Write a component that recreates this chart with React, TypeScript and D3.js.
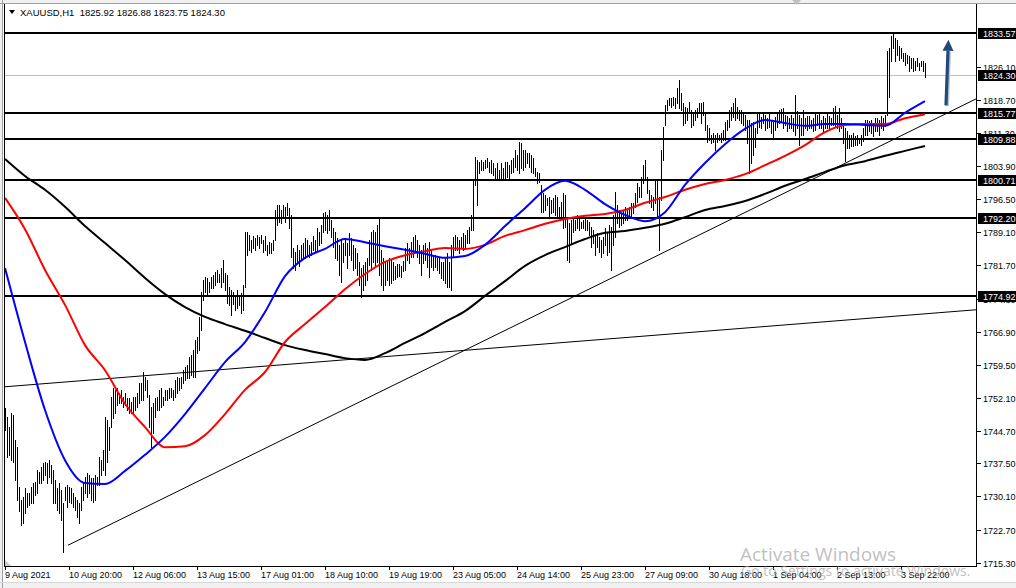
import React from 'react';
import * as d3 from 'd3';

// XAUUSD H1 bars, one per index (high / low)
const highs = [
  1749.9,1747.9,1745.6,1748.7,1748.3,1742.7,1741.1,1732.2,1729.3,1729.9,
  1731.9,1730.9,1730.9,1732.2,1733.1,1733.4,1736.0,1735.6,1736.7,1737.6,
  1737.8,1737.6,1738.2,1737.1,1736.0,1733.8,1731.9,1733.1,1731.5,1728.6,
  1732.2,1732.7,1732.2,1731.9,1730.9,1729.9,1729.3,1728.6,1732.2,1733.4,
  1734.4,1735.3,1734.9,1734.2,1734.2,1734.9,1734.4,1738.9,1738.2,1740.4,
  1747.9,1747.2,1745.6,1752.3,1754.3,1753.9,1754.3,1753.2,1753.9,1752.3,
  1753.2,1752.1,1752.1,1751.2,1752.3,1752.3,1753.2,1755.4,1755.4,1757.9,
  1756.8,1756.1,1752.7,1750.1,1751.0,1752.1,1752.3,1753.9,1754.3,1752.3,
  1753.9,1753.9,1754.3,1754.3,1753.9,1756.1,1756.8,1756.6,1756.8,1758.3,
  1759.0,1759.5,1761.2,1761.7,1762.8,1765.1,1765.7,1770.2,1775.8,1778.5,
  1779.1,1778.9,1778.0,1779.1,1779.6,1780.3,1780.7,1779.8,1781.1,1782.9,
  1780.0,1779.6,1776.9,1776.2,1775.7,1775.1,1776.2,1775.1,1775.5,1777.3,
  1789.1,1789.1,1788.5,1787.4,1788.3,1787.8,1788.5,1788.1,1788.5,1787.4,
  1788.3,1786.3,1787.0,1786.8,1787.4,1794.1,1795.2,1795.2,1794.1,1795.2,
  1794.7,1795.6,1794.5,1793.0,1785.6,1784.7,1786.3,1785.2,1786.3,1786.8,
  1787.8,1787.4,1786.3,1787.0,1788.3,1787.4,1790.0,1789.1,1790.7,1793.4,
  1793.7,1793.0,1794.1,1791.9,1790.0,1789.1,1787.8,1786.3,1787.4,1786.8,
  1787.8,1786.8,1789.0,1787.8,1786.3,1785.6,1784.5,1782.4,1781.1,1781.8,
  1782.4,1783.3,1787.4,1789.1,1789.6,1789.1,1790.7,1792.3,1785.2,1783.3,
  1782.4,1782.9,1783.3,1782.9,1782.4,1781.6,1782.0,1782.0,1781.6,1782.7,
  1785.6,1786.8,1785.6,1787.0,1788.1,1788.5,1787.4,1786.3,1785.2,1786.3,
  1786.8,1785.6,1787.0,1785.2,1784.0,1784.0,1783.3,1783.6,1782.5,1782.5,
  1783.6,1784.4,1782.4,1786.3,1788.1,1788.5,1788.1,1787.4,1788.1,1789.0,
  1788.5,1789.6,1790.3,1793.0,1800.8,1805.9,1805.3,1804.8,1805.3,1804.8,
  1805.3,1805.7,1804.8,1805.3,1804.6,1803.5,1804.6,1803.0,1804.6,1803.5,
  1804.8,1804.8,1804.1,1805.3,1805.7,1807.5,1806.4,1809.3,1809.1,1807.5,
  1807.5,1806.8,1806.8,1806.4,1805.7,1803.5,1802.5,1802.3,1799.7,1797.9,
  1797.4,1796.7,1797.0,1796.3,1796.7,1797.4,1797.0,1794.7,1795.8,1797.9,
  1797.4,1792.3,1791.2,1791.9,1792.5,1791.9,1793.0,1792.3,1791.4,1791.9,
  1792.3,1791.9,1791.4,1790.3,1789.6,1788.5,1789.0,1788.1,1787.4,1788.1,
  1790.0,1789.0,1790.7,1790.3,1793.0,1798.1,1795.2,1794.1,1793.4,1794.1,
  1794.7,1794.1,1794.7,1795.6,1795.6,1797.9,1800.1,1799.2,1801.4,1804.1,
  1805.3,1801.4,1798.6,1797.4,1797.0,1800.8,1800.8,1797.0,1807.5,1812.6,
  1817.6,1818.7,1819.1,1819.1,1819.3,1819.1,1821.3,1823.1,1820.2,1817.9,
  1817.1,1816.9,1818.2,1816.4,1815.7,1816.4,1816.9,1817.9,1817.9,1818.2,
  1815.7,1813.1,1812.4,1810.8,1811.3,1810.8,1811.3,1810.8,1811.3,1812.0,
  1813.8,1814.2,1816.4,1817.1,1817.9,1819.1,1817.1,1816.4,1816.4,1815.9,
  1815.3,1814.2,1814.2,1813.5,1813.8,1812.4,1815.7,1815.7,1814.9,1816.0,
  1815.3,1814.6,1815.7,1814.2,1814.2,1814.9,1815.7,1816.4,1816.6,1816.9,
  1815.3,1815.1,1814.6,1815.3,1814.6,1819.8,1816.2,1815.3,1814.6,1816.4,
  1814.6,1815.1,1815.1,1814.2,1814.6,1815.7,1815.3,1815.7,1814.2,1815.1,
  1814.6,1815.7,1815.1,1814.6,1816.9,1817.3,1815.3,1816.9,1814.6,1813.1,
  1812.4,1811.7,1810.8,1810.8,1811.3,1810.6,1810.8,1810.2,1810.8,1812.4,
  1814.2,1814.2,1814.0,1814.2,1813.5,1814.6,1814.6,1814.2,1815.1,1814.6,
  1815.3,1829.6,1830.3,1833.0,1833.6,1832.5,1832.1,1830.7,1830.3,1829.2,
  1829.2,1828.7,1828.5,1828.0,1828.0,1827.4,1828.0,1826.9,1827.4,1827.4,1826.88,
];

const lows = [
  1744.9,1738.9,1739.4,1738.2,1737.8,1733.8,1729.3,1726.9,1723.7,1724.2,
  1726.4,1727.7,1728.2,1728.6,1728.6,1730.4,1730.9,1733.1,1733.1,1733.8,
  1734.9,1733.1,1734.4,1733.1,1728.6,1728.6,1727.0,1726.4,1724.8,1717.7,
  1729.3,1727.7,1728.8,1728.6,1727.7,1727.0,1725.5,1724.2,1727.0,1729.3,
  1730.9,1730.0,1730.9,1729.3,1728.8,1729.3,1732.7,1732.7,1734.9,1736.0,
  1734.9,1737.8,1740.4,1745.6,1747.6,1748.7,1750.5,1751.0,1751.0,1750.1,
  1750.5,1749.4,1748.7,1748.7,1748.7,1749.4,1750.1,1751.0,1751.7,1751.7,
  1753.9,1752.3,1745.6,1741.1,1744.2,1747.9,1749.4,1749.4,1750.1,1750.6,
  1751.7,1751.7,1752.1,1752.3,1751.7,1752.3,1753.2,1753.9,1754.3,1755.4,
  1756.1,1756.6,1756.6,1757.2,1756.8,1756.8,1762.1,1762.8,1767.3,1774.0,
  1775.8,1775.1,1775.8,1776.7,1776.7,1777.3,1778.0,1778.0,1776.9,1778.0,
  1776.2,1773.3,1772.9,1770.6,1773.1,1771.8,1772.2,1772.9,1771.1,1771.8,
  1776.9,1784.0,1785.2,1784.7,1785.6,1785.2,1786.3,1785.6,1786.8,1784.7,
  1785.2,1784.0,1784.4,1784.4,1785.2,1787.4,1790.7,1791.4,1791.2,1792.3,
  1791.4,1793.0,1790.0,1783.6,1781.1,1780.7,1782.4,1781.6,1782.9,1783.3,
  1783.3,1784.0,1783.6,1784.0,1785.2,1784.7,1785.2,1786.3,1786.8,1789.1,
  1789.6,1788.9,1789.6,1788.1,1785.8,1783.3,1782.9,1779.6,1778.0,1782.4,
  1784.0,1781.1,1784.0,1782.9,1780.7,1781.1,1779.6,1777.3,1774.6,1776.2,
  1777.3,1778.5,1781.8,1780.7,1782.4,1781.8,1782.4,1779.6,1777.3,1776.2,
  1777.3,1778.5,1777.3,1777.8,1778.5,1778.7,1779.1,1779.3,1779.1,1780.5,
  1780.7,1782.9,1782.2,1783.6,1783.6,1784.7,1783.6,1782.2,1779.6,1782.2,
  1782.9,1781.3,1779.1,1781.3,1780.7,1781.3,1780.7,1780.0,1778.9,1778.5,
  1777.8,1776.9,1776.9,1776.2,1783.6,1785.2,1785.2,1784.4,1785.6,1785.2,
  1785.8,1786.8,1786.8,1789.6,1789.6,1799.7,1795.2,1802.3,1803.0,1803.0,
  1803.4,1803.7,1802.5,1802.3,1801.9,1801.2,1801.2,1800.8,1801.2,1800.8,
  1800.8,1801.5,1800.8,1802.3,1802.5,1803.7,1803.0,1802.3,1803.5,1803.0,
  1803.7,1804.6,1803.7,1802.5,1802.3,1801.7,1800.1,1800.3,1793.7,1793.7,
  1794.1,1795.2,1792.3,1793.4,1793.7,1793.0,1792.5,1792.5,1792.5,1790.0,
  1790.3,1782.9,1782.4,1786.8,1789.1,1789.6,1790.0,1789.6,1790.0,1790.0,
  1789.6,1789.6,1788.5,1785.8,1786.8,1784.0,1785.8,1784.7,1783.6,1784.4,
  1786.3,1784.0,1784.7,1780.7,1786.3,1788.0,1791.2,1790.3,1790.7,1791.2,
  1791.9,1791.9,1792.5,1792.5,1793.4,1794.7,1795.8,1797.0,1797.0,1800.1,
  1800.8,1797.9,1795.6,1794.7,1794.1,1795.6,1792.5,1785.2,1796.3,1805.3,
  1813.1,1816.4,1817.5,1817.1,1817.5,1816.9,1818.0,1816.9,1816.4,1813.1,
  1813.5,1814.2,1816.0,1812.6,1813.1,1814.2,1814.9,1815.7,1813.5,1815.3,
  1812.0,1809.3,1809.7,1809.1,1809.3,1807.5,1809.3,1809.7,1809.3,1809.7,
  1809.7,1812.0,1812.6,1814.2,1814.9,1814.2,1814.6,1814.2,1813.5,1813.1,
  1812.0,1809.1,1802.3,1804.6,1806.4,1808.2,1811.3,1812.6,1812.4,1813.5,
  1812.0,1812.4,1812.6,1811.3,1810.2,1812.0,1812.6,1813.5,1813.8,1812.4,
  1813.1,1811.7,1812.4,1812.4,1811.7,1810.8,1812.4,1808.6,1810.8,1810.8,
  1812.4,1812.0,1812.4,1812.4,1811.7,1812.0,1813.1,1812.4,1812.4,1811.7,
  1812.4,1812.4,1812.4,1813.1,1813.1,1812.9,1812.4,1811.7,1812.4,1809.1,
  1805.0,1807.9,1807.9,1808.4,1808.4,1808.6,1808.6,1809.1,1808.6,1809.5,
  1810.8,1810.8,1811.7,1811.3,1810.6,1811.7,1811.7,1810.8,1812.4,1812.0,
  1812.9,1815.3,1819.3,1827.4,1830.3,1827.4,1828.7,1827.6,1828.0,1827.4,
  1826.5,1826.9,1825.1,1825.8,1825.1,1825.4,1826.3,1825.4,1826.3,1825.1,1823.75,
];

// moving averages, one value every maStep bars
const maStep = 10;
const maFast = [
  1781.1,1764.6,1749.4,1738.2,1733.1,1732.9,1735.8,1739.4,1743.4,1748.5,
  1754.3,1760.1,1764.6,1771.3,1779.3,1783.4,1785.4,1787.6,1786.9,1786.0,
  1785.2,1784.3,1783.4,1783.8,1786.3,1790.5,1794.5,1798.6,1800.6,1798.6,
  1795.4,1793.0,1791.6,1793.6,1799.7,1804.6,1808.8,1812.2,1814.2,1813.5,
  1812.9,1813.3,1813.3,1813.1,1812.9,1815.8,1818.4,
];
const maMid = [
  1796.8,1789.8,1780.7,1772.9,1763.9,1758.3,1750.8,1745.6,1741.1,1741.3,
  1743.8,1748.5,1753.9,1757.9,1764.6,1768.6,1772.4,1776.4,1779.8,1782.5,
  1784.0,1784.9,1785.6,1785.4,1786.3,1788.3,1789.6,1791.0,1792.1,1792.8,
  1793.2,1794.1,1795.7,1797.0,1798.6,1799.9,1800.8,1802.1,1804.1,1806.2,
  1808.6,1811.5,1813.1,1813.3,1813.3,1814.6,1815.5,
];
const maSlow = [
  1805.5,1801.7,1798.6,1794.8,1790.5,1786.7,1782.9,1778.9,1775.3,1772.4,
  1770.2,1768.6,1767.1,1765.5,1763.9,1762.8,1761.9,1761.0,1760.6,1762.1,
  1764.4,1766.6,1769.1,1771.5,1774.9,1778.2,1781.6,1784.0,1785.8,1787.6,
  1789.0,1789.4,1790.1,1791.0,1792.5,1794.1,1795.0,1796.1,1797.7,1799.5,
  1801.0,1802.6,1804.1,1805.0,1806.2,1807.3,1808.4,
];

const levels = [1833.57, 1815.77, 1809.88, 1800.71, 1792.2, 1774.92];
const bid = 1824.3;
const lastBar = [1825.92, 1826.88, 1823.75, 1824.3];

const priceTicks = [
  '1826.10','1818.70','1811.30','1803.90','1796.50','1789.10','1781.70','1774.30',
  '1766.90','1759.50','1752.10','1744.70','1737.50','1730.10','1722.70','1715.30',
];
const timeLabels = [
  '9 Aug 2021','10 Aug 20:00','12 Aug 06:00','13 Aug 15:00','17 Aug 01:00',
  '18 Aug 10:00','19 Aug 19:00','23 Aug 05:00','24 Aug 14:00','25 Aug 23:00',
  '27 Aug 09:00','30 Aug 18:00','1 Sep 04:00','2 Sep 13:00','3 Sep 22:00',
];
const labelEvery = 32;

// trend lines [bar0, price0, bar1, price1]
const trendLines = [
  [31.5, 1719.2, 485.5, 1818.9],
  [0, 1754.6, 485.5, 1771.8],
];
const arrowLine = [470.5, 1817.5, 471.7, 1832.1];

const font = '"Liberation Sans", Arial, sans-serif';

export default function App() {
  const W = 1016, H = 588;
  const left = 5, right = 976, bottom = 566;
  const x = d3.scaleLinear().domain([0, 485]).range([5, 975]);
  const y = d3.scaleLinear().domain([1715.3, 1826.1]).range([562.7, 66.7]);
  const py = (p: number) => Math.round(y(p));

  const barPath = highs
    .map((h, i) => `M${x(i) + 0.5},${py(h)}V${py(lows[i]) + 1}`)
    .join('');

  const ma = d3.line<number>()
    .x((_, k) => x(k * maStep))
    .y(d => y(d))
    .curve(d3.curveMonotoneX);

  // arrow geometry
  const ax0 = x(arrowLine[0]), ay0 = y(arrowLine[1]);
  const ax1 = x(arrowLine[2]), ay1 = y(arrowLine[3]);
  const len = Math.hypot(ax1 - ax0, ay1 - ay0);
  const ux = (ax1 - ax0) / len, uy = (ay1 - ay0) / len;
  const cx = ax1 - ux * 11, cy = ay1 - uy * 11;
  const head = `M${ax1},${ay1}L${cx - uy * 5.5},${cy + ux * 5.5}L${cx + uy * 5.5},${cy - ux * 5.5}Z`;

  return (
    <div style={{ position: 'absolute', left: 0, top: 0 }}>
      <svg width={W} height={H} style={{ display: 'block', fontFamily: font }}>
        <rect width={W} height={H} fill="#ffffff" />
        <rect width={W} height={3} fill="#f0f0f0" />
        <rect width={3} height={H} fill="#f0f0f0" />
        <rect y={582} width={W} height={6} fill="#f0f0f0" />
        <line x1={0} x2={W} y1={3.5} y2={3.5} stroke="#a0a0a0" />
        <line x1={2.5} x2={2.5} y1={0} y2={H} stroke="#a0a0a0" />
        <line x1={0} x2={W} y1={582.5} y2={582.5} stroke="#d8d8d8" />
        <path d="M792,0L801,0L796.5,5Z" fill="#c0c0c0" />

        {/* bid line */}
        <line x1={left} x2={right} y1={py(bid) + 0.5} y2={py(bid) + 0.5} stroke="#c0c0c0" />

        {/* trend lines */}
        {trendLines.map((t, k) => (
          <line key={k} x1={x(t[0])} y1={y(t[1])} x2={x(t[2])} y2={y(t[3])}
            stroke="#000" strokeWidth={1} />
        ))}

        {/* bars */}
        <path d={barPath} stroke="#000" strokeWidth={1} fill="none" shapeRendering="crispEdges" />

        {/* horizontal levels */}
        {levels.map(p => (
          <line key={p} x1={left} x2={right} y1={py(p)} y2={py(p)} stroke="#000" strokeWidth={2}
            shapeRendering="crispEdges" />
        ))}

        {/* moving averages */}
        <path d={ma(maSlow) || ''} fill="none" stroke="#000000" strokeWidth={2} />
        <path d={ma(maMid) || ''} fill="none" stroke="#ff0000" strokeWidth={2} />
        <path d={ma(maFast) || ''} fill="none" stroke="#0000ff" strokeWidth={2} />

        {/* arrow */}
        <g>
          <line x1={ax0 + 1} y1={ay0 + 1} x2={cx + 1} y2={cy + 1} stroke="#b8c4d6" strokeWidth={4} />
          <line x1={ax0} y1={ay0} x2={cx} y2={cy} stroke="#23487a" strokeWidth={3.2} />
          <path d={head} fill="#23487a" />
        </g>

        {/* frame */}
        <line x1={4.5} x2={4.5} y1={4} y2={bottom + 1} stroke="#000" />
        <line x1={right + 0.5} x2={right + 0.5} y1={4} y2={bottom + 1} stroke="#000" />
        <line x1={4} x2={right + 1} y1={bottom + 0.5} y2={bottom + 0.5} stroke="#000" />
        <path d={`M5,${bottom - 6}L5,${bottom}L11,${bottom}Z`} fill="#c8c8c8" />

        {/* title */}
        <path d="M9,10L15,10L12,14Z" fill="#000" />
        <text x={20} y={16} fontSize={9.5} fill="#000" style={{ whiteSpace: 'pre' }}>
          {`XAUUSD,H1  ${lastBar.map(v => v.toFixed(2)).join(' ')}`}
        </text>

        {/* price axis */}
        {priceTicks.map(t => {
          const yy = py(+t);
          return (
            <g key={t}>
              <line x1={977} x2={981} y1={yy + 0.5} y2={yy + 0.5} stroke="#000" />
              <text x={983} y={yy + 3.5} fontSize={9} fill="#000">{t}</text>
            </g>
          );
        })}
        {[...levels, bid].map(p => {
          const yy = py(p);
          return (
            <g key={'b' + p}>
              <rect x={978} y={yy - 5} width={38} height={11} fill="#000" />
              <text x={983} y={yy + 3.5} fontSize={9} fill="#fff">{p.toFixed(2)}</text>
            </g>
          );
        })}

        {/* time axis */}
        {timeLabels.map((t, k) => {
          const xx = x(k * labelEvery);
          return (
            <g key={t}>
              <line x1={xx + 0.5} x2={xx + 0.5} y1={bottom} y2={bottom + 4} stroke="#000" />
              <text x={xx} y={578} fontSize={9} fill="#000">{t}</text>
            </g>
          );
        })}

        {/* OS watermark */}
        <g fontFamily='"Open Sans", "Noto Sans", sans-serif' fill="#a0a0a0" opacity={0.65}>
          <text x={740} y={561} fontSize={19}>Activate Windows</text>
          <text x={741} y={576} fontSize={14}>Go to Settings to activate Windows.</text>
        </g>
      </svg>
    </div>
  );
}
